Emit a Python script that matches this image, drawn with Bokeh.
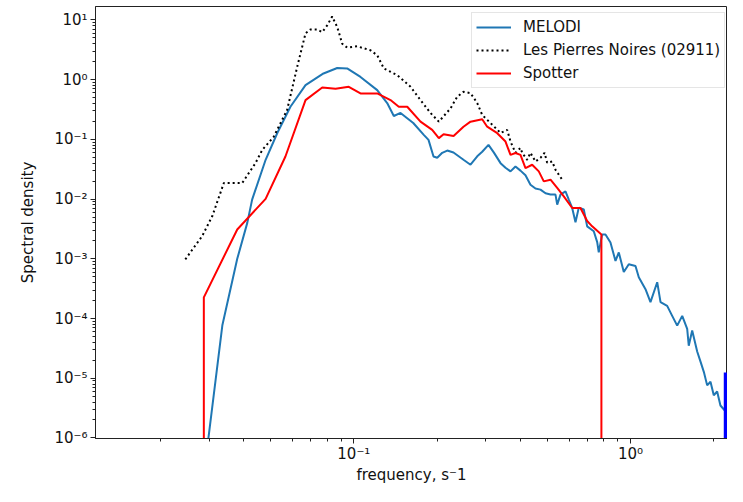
from bokeh.plotting import figure
from bokeh.models import Legend, LegendItem, FixedTicker, CustomJSTickFormatter, Range1d
from bokeh.embed import file_html
from bokeh.resources import INLINE

# ---- data ----
melodi_freq = [0.0291, 0.0335, 0.0379, 0.0412, 0.0429, 0.0480, 0.0529, 0.0590, 0.0669, 0.0777,
               0.0871, 0.0946, 0.1057, 0.1215, 0.1320, 0.1395, 0.1475, 0.1640, 0.1790, 0.1862,
               0.1941, 0.2002, 0.2087, 0.2176, 0.2292, 0.2491, 0.2641, 0.2793, 0.2911, 0.3067,
               0.3209, 0.3391, 0.3534, 0.3684, 0.3839, 0.4003, 0.4173, 0.4350, 0.4535, 0.4728,
               0.4930, 0.5140, 0.5357, 0.5434, 0.5585, 0.5822, 0.5984, 0.6156, 0.6327, 0.6503,
               0.6780, 0.6973, 0.7367, 0.7580, 0.7680, 0.7900, 0.8121, 0.8465, 0.8827, 0.9073,
               0.9458, 0.9860, 1.0425, 1.0715, 1.1330, 1.1810, 1.2490, 1.2840, 1.3570, 1.4150,
               1.4750, 1.5380, 1.6030, 1.6240, 1.6710, 1.7420, 1.7910, 1.8410, 1.8930, 1.9460,
               2.0000, 2.0570, 2.1140, 2.2040, 2.2980, 2.3960, 2.4630, 2.5330]
melodi_psd = [4.0e-7, 7.8e-5, 1.0e-3, 4.0e-3, 9.8e-3, 0.0455, 0.128, 0.352, 0.81, 1.27,
              1.57, 1.54, 1.11, 0.668, 0.406, 0.246, 0.277, 0.188, 0.119, 0.098,
              0.0517, 0.0492, 0.0596, 0.0650, 0.0602, 0.0455, 0.0376, 0.0520, 0.0620, 0.0810,
              0.0600, 0.0400, 0.0335, 0.0291, 0.0352, 0.0300, 0.0250, 0.0174, 0.0150, 0.0144,
              0.0125, 0.0119, 0.0119, 0.0081, 0.0119, 0.0135, 0.0098, 0.0071, 0.0041, 0.0072,
              0.0067, 0.0035, 0.0029, 0.0019, 0.00128, 0.00256, 0.00256, 0.00188, 0.00092, 0.00128,
              0.00060, 0.00081, 0.00076, 0.00049, 0.00031, 0.000188, 0.000406, 0.000188, 0.000163, 0.000111,
              7.6e-5, 0.000111, 6.7e-5, 3.5e-5, 6.3e-5, 2.8e-5, 1.9e-5, 1.28e-5, 7.6e-6, 8.75e-6,
              5.2e-6, 6.0e-6, 3.5e-6, 2.8e-6, 2.1e-6, 1.63e-6, 1.35e-6, 8.75e-7]

lpn_freq = [0.0246, 0.0283, 0.0308, 0.0339, 0.0395, 0.0441, 0.0467, 0.0513, 0.0574, 0.0624,
            0.0669, 0.0698, 0.0737, 0.0769, 0.0801, 0.0835, 0.0871, 0.0908, 0.0946, 0.1029,
            0.1149, 0.1215, 0.1284, 0.1435, 0.1603, 0.1742, 0.1893, 0.2029, 0.2236, 0.2364,
            0.2491, 0.2641, 0.2793, 0.2911, 0.3119, 0.3391, 0.3584, 0.3684, 0.3839, 0.4003,
            0.4060, 0.4232, 0.4350, 0.4535, 0.4728, 0.4889, 0.5000, 0.5212, 0.5357, 0.5665]
lpn_psd = [9.8e-4, 2.4e-3, 5.2e-3, 0.0186, 0.0186, 0.040, 0.0668, 0.110, 0.310, 1.63,
           5.96, 6.94, 6.94, 6.26, 8.1, 11.4, 7.6, 4.0, 3.44, 3.62,
           3.10, 2.56, 1.54, 1.19, 0.76, 0.455, 0.277, 0.198, 0.33, 0.517,
           0.626, 0.596, 0.406, 0.256, 0.188, 0.128, 0.144, 0.092, 0.0596, 0.072,
           0.0596, 0.0455, 0.0596, 0.0426, 0.0492, 0.0596, 0.0406, 0.0426, 0.031, 0.0211]

spotter_freq = [0.0287, 0.0287, 0.0379, 0.0480, 0.0566, 0.0669, 0.0769, 0.0859, 0.0959, 0.1057,
                0.1215, 0.1357, 0.1454, 0.1560, 0.1742, 0.1920, 0.2029, 0.2111, 0.2294, 0.2491,
                0.2641, 0.2911, 0.3034, 0.3299, 0.3534, 0.3684, 0.3839, 0.4003, 0.4173, 0.4412,
                0.4662, 0.4860, 0.5140, 0.5434, 0.5740, 0.6156, 0.6596, 0.6973, 0.7270, 0.7850,
                0.7850]
spotter_psd = [1.0e-9, 2.26e-4, 3.1e-3, 0.0101, 0.0517, 0.455, 0.741, 0.703, 0.759, 0.589,
               0.589, 0.455, 0.352, 0.352, 0.198, 0.144, 0.105, 0.122, 0.114, 0.163,
               0.198, 0.217, 0.163, 0.127, 0.092, 0.055, 0.059, 0.055, 0.0331, 0.0376,
               0.0291, 0.0198, 0.0211, 0.0154, 0.0111, 0.0071, 0.0071, 0.0043, 0.0035, 0.00256,
               1.0e-9]

marker_freq = [2.21, 2.21]
marker_psd = [1.0e-6, 1.25e-5]

x_major_ticks = [0.1, 1.0]
x_minor_ticks = [0.02, 0.03, 0.04, 0.05, 0.06, 0.07, 0.08, 0.09,
                 0.2, 0.3, 0.4, 0.5, 0.6, 0.7, 0.8, 0.9, 2.0]
y_major_ticks = [1e-6, 1e-5, 1e-4, 1e-3, 1e-2, 1e-1, 1.0, 10.0]
y_minor_ticks = [m * 10.0 ** k for k in range(-7, 2) for m in range(2, 10)]

FONT = "DejaVu Sans"
FS = "15px"

p = figure(width=727, height=486, x_axis_type="log", y_axis_type="log",
           x_range=Range1d(0.01165, 2.242), y_range=Range1d(9.8e-7, 16.79),
           output_backend="svg", toolbar_location=None,
           min_border_left=95, min_border_right=0, min_border_top=6, min_border_bottom=48)

r1 = p.line(melodi_freq, melodi_psd, line_color="#1f77b4", line_width=2)
r2 = p.line(lpn_freq, lpn_psd, line_color="black", line_width=2, line_dash="2 3")
r3 = p.line(spotter_freq, spotter_psd, line_color="red", line_width=2)
r4 = p.line(marker_freq, marker_psd, line_color="blue", line_width=4)

fmt = CustomJSTickFormatter(code="""
const e = Math.round(Math.log10(tick));
const sup = {"-": "\u207b", "0": "\u2070", "1": "\u00b9", "2": "\u00b2", "3": "\u00b3",
             "4": "\u2074", "5": "\u2075", "6": "\u2076", "7": "\u2077", "8": "\u2078", "9": "\u2079"};
return "10" + String(e).split("").map(c => sup[c]).join("");
""")

p.xaxis.ticker = FixedTicker(ticks=x_major_ticks, minor_ticks=x_minor_ticks)
p.yaxis.ticker = FixedTicker(ticks=y_major_ticks, minor_ticks=y_minor_ticks)
for ax in (p.xaxis[0], p.yaxis[0]):
    ax.formatter = fmt
    ax.major_label_text_font = FONT
    ax.major_label_text_font_size = FS
    ax.major_label_text_color = "#111111"
    ax.axis_label_text_font = FONT
    ax.axis_label_text_font_size = FS
    ax.axis_label_text_font_style = "normal"
    ax.axis_label_text_color = "#111111"
    ax.axis_line_color = "#222222"
    ax.major_tick_line_color = "#222222"
    ax.minor_tick_line_color = "#222222"
    ax.major_tick_in = 0
    ax.major_tick_out = 5
    ax.minor_tick_in = 0
    ax.minor_tick_out = 3

p.yaxis.major_label_standoff = 3
p.xaxis.major_label_standoff = 1
p.xaxis.axis_label = "frequency, s\u207b1"
p.yaxis.axis_label = "Spectral density"
p.xaxis.axis_label_standoff = 0
p.yaxis.axis_label_standoff = 14

p.grid.visible = False
p.outline_line_color = "#222222"
p.outline_line_width = 1
p.background_fill_color = "white"
p.border_fill_color = "white"

legend = Legend(items=[LegendItem(label="MELODI", renderers=[r1]),
                       LegendItem(label="Les Pierres Noires (02911)", renderers=[r2]),
                       LegendItem(label="Spotter", renderers=[r3])],
                location=(376, 350))
legend.margin = 0
legend.padding = 4
legend.spacing = 3
legend.label_height = 20
legend.glyph_height = 20
legend.glyph_width = 35
legend.label_standoff = 12
legend.label_text_font = FONT
legend.label_text_font_size = FS
legend.label_text_color = "#111111"
legend.border_line_color = "#cccccc"
legend.background_fill_alpha = 0.8
p.add_layout(legend)

open("out.html", "w").write(file_html(p, INLINE))
